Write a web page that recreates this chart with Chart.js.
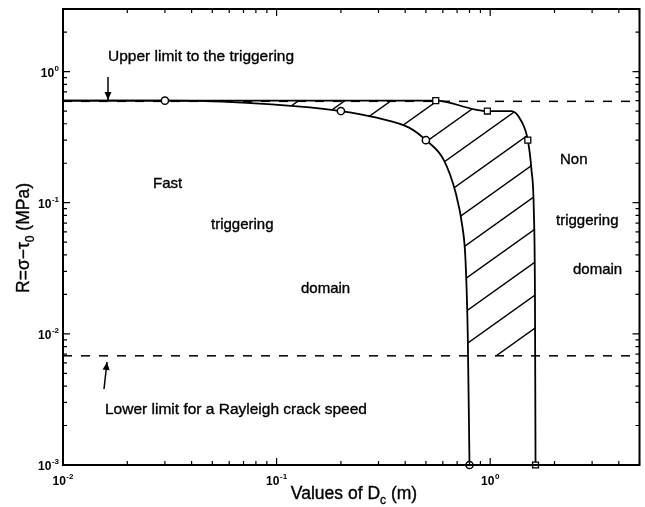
<!DOCTYPE html>
<html><head><meta charset="utf-8">
<script src="https://cdn.jsdelivr.net/npm/chart.js@4/dist/chart.umd.min.js"></script>
<style>html,body{margin:0;padding:0;background:#fff}</style>
</head><body>
<canvas id="c" width="645" height="507"></canvas>
<script>
// ---- data ----
const circleCurveX = [0.01, 0.03, 0.043, 0.125, 0.2, 0.294, 0.417, 0.5, 0.605, 0.689, 0.741, 0.766, 0.785, 0.8];
const circleCurveY = [0.6, 0.6, 0.597, 0.543, 0.5, 0.445, 0.374, 0.3, 0.213, 0.119, 0.0656, 0.037, 0.01, 0.001];
const squareCurveX = [0.01, 0.556, 0.853, 0.97, 1.26, 1.4, 1.5, 1.56, 1.6, 1.62, 1.63];
const squareCurveY = [0.6, 0.6, 0.513, 0.5, 0.5, 0.418, 0.3, 0.179, 0.0885, 0.02, 0.001];
const circleMarkX = [0.03, 0.2, 0.5, 0.8];
const circleMarkY = [0.6, 0.5, 0.3, 0.001];
const squareMarkX = [0.556, 0.97, 1.5, 1.63];
const squareMarkY = [0.6, 0.5, 0.3, 0.001];
const upperLimitX = [0.01, 5];
const upperLimitY = [0.593, 0.593];
const lowerLimitX = [0.01, 5];
const lowerLimitY = [0.0068, 0.0068];
const xMajorTicks = [0.01, 0.1, 1];
const xTickExponents = ['-2', '-1', '0'];
const yMajorTicks = [0.001, 0.01, 0.1, 1];
const yTickExponents = ['-3', '-2', '-1', '0'];

const FONT = '"Liberation Sans", Arial, Helvetica, sans-serif';
const pts = (xs, ys) => xs.map((x, i) => ({x, y: ys[i]}));

function powLabel(ctx, exp, x, y, align) {
  const big = 'bold 12px ' + FONT, small = 'bold 8px ' + FONT;
  ctx.font = big; const w1 = ctx.measureText('10').width;
  ctx.font = small; const w2 = ctx.measureText(exp).width;
  const total = w1 + w2 + 0.5;
  const x0 = align === 'center' ? x - total / 2 : x - total;
  ctx.textAlign = 'left'; ctx.textBaseline = 'middle';
  ctx.font = big; ctx.fillText('10', x0, y);
  ctx.font = small; ctx.fillText(exp, x0 + w1 + 0.5, y - 5);
}

function heavyText(ctx, t, x, y) {
  ctx.fillText(t, x, y);
  ctx.lineWidth = 0.35; ctx.strokeText(t, x, y);
}

function arrow(ctx, x1, y1, x2, y2) {
  ctx.beginPath(); ctx.moveTo(x1, y1); ctx.lineTo(x2, y2); ctx.stroke();
  const ang = Math.atan2(y2 - y1, x2 - x1), L = 8, W = 3.5;
  ctx.beginPath();
  ctx.moveTo(x2, y2);
  ctx.lineTo(x2 - L * Math.cos(ang) + W * Math.sin(ang), y2 - L * Math.sin(ang) - W * Math.cos(ang));
  ctx.lineTo(x2 - L * Math.cos(ang) - W * Math.sin(ang), y2 - L * Math.sin(ang) + W * Math.cos(ang));
  ctx.closePath(); ctx.fill();
}

const IDX_CIRCLE_CURVE = 2, IDX_SQUARE_CURVE = 3;

const decorPlugin = {
  id: 'decor',
  beforeDraw(chart) {
    const ctx = chart.ctx;
    ctx.save(); ctx.fillStyle = '#fff'; ctx.fillRect(0, 0, chart.width, chart.height); ctx.restore();
  },
  beforeDatasetsDraw(chart) {
    const ctx = chart.ctx, a = chart.chartArea, ys = chart.scales.y;
    const cLine = chart.getDatasetMeta(IDX_CIRCLE_CURVE).dataset;
    const sLine = chart.getDatasetMeta(IDX_SQUARE_CURVE).dataset;
    [cLine, sLine].forEach(l => { if (l.updateControlPoints) l.updateControlPoints(a, 'x'); });
    const yLow = ys.getPixelForValue(lowerLimitY[0]);
    ctx.save();
    ctx.beginPath(); cLine.path(ctx);
    ctx.lineTo(a.right, a.bottom); ctx.lineTo(a.right, a.top); ctx.lineTo(a.left, a.top); ctx.closePath(); ctx.clip();
    ctx.beginPath(); sLine.path(ctx);
    ctx.lineTo(a.left, a.bottom); ctx.closePath(); ctx.clip();
    ctx.beginPath(); ctx.rect(a.left, a.top, a.right - a.left, yLow - a.top); ctx.clip();
    ctx.strokeStyle = '#000'; ctx.lineWidth = 1.4;
    const k = 0.713, step = 33;
    for (let c = 478.6 - step * 8; c < 1300; c += step) {
      ctx.beginPath(); ctx.moveTo(a.left, c - k * a.left); ctx.lineTo(a.right, c - k * a.right); ctx.stroke();
    }
    ctx.restore();
  },
  afterDraw(chart) {
    const ctx = chart.ctx, a = chart.chartArea, xs = chart.scales.x, ys = chart.scales.y;
    ctx.save();
    ctx.strokeStyle = '#000'; ctx.fillStyle = '#000';
    // frame
    ctx.lineWidth = 2;
    ctx.strokeRect(a.left, a.top, a.right - a.left, a.bottom - a.top);
    // ticks
    ctx.lineWidth = 1.2;
    for (let d = -3; d <= 1; d++) {
      for (let m = 1; m <= 9; m++) {
        const v = m * Math.pow(10, d);
        const len = m === 1 ? 7 : 4;
        if (v >= xs.min * 0.999 && v <= xs.max * 1.001) {
          const px = xs.getPixelForValue(v);
          ctx.beginPath();
          ctx.moveTo(px, a.bottom); ctx.lineTo(px, a.bottom - len);
          ctx.moveTo(px, a.top); ctx.lineTo(px, a.top + len);
          ctx.stroke();
        }
        if (v >= ys.min * 0.999 && v <= ys.max * 1.001) {
          const py = ys.getPixelForValue(v);
          ctx.beginPath();
          ctx.moveTo(a.left, py); ctx.lineTo(a.left + len, py);
          ctx.moveTo(a.right, py); ctx.lineTo(a.right - len, py);
          ctx.stroke();
        }
      }
    }
    // tick labels
    xMajorTicks.forEach((v, i) => powLabel(ctx, xTickExponents[i], xs.getPixelForValue(v), a.bottom + 17, 'center'));
    yMajorTicks.forEach((v, i) => powLabel(ctx, yTickExponents[i], a.left - 4, ys.getPixelForValue(v) + 2, 'right'));

    // axis titles
    const tf = '17.5px ' + FONT, sf = '12px ' + FONT;
    ctx.textBaseline = 'alphabetic'; ctx.textAlign = 'left';
    // x title
    ctx.font = tf; const xa = 'Values of D', xb = ' (m)';
    const wa = ctx.measureText(xa).width, wb = ctx.measureText(xb).width;
    ctx.font = sf; const wc = ctx.measureText('c').width;
    let x0 = 354 - (wa + wc + wb) / 2, base = 499;
    ctx.font = tf; heavyText(ctx, xa, x0, base);
    ctx.font = sf; heavyText(ctx, 'c', x0 + wa, base + 5);
    ctx.font = tf; heavyText(ctx, xb, x0 + wa + wc, base);
    // y title
    ctx.save();
    ctx.translate(29, 238); ctx.rotate(-Math.PI / 2);
    ctx.font = tf; const ya = 'R=\u03C3\u2212\u03C4', yb = ' (MPa)';
    const ywa = ctx.measureText(ya).width, ywb = ctx.measureText(yb).width;
    ctx.font = sf; const ywc = ctx.measureText('0').width;
    x0 = -(ywa + ywc + ywb) / 2;
    ctx.font = tf; heavyText(ctx, ya, x0, 0);
    ctx.font = sf; heavyText(ctx, '0', x0 + ywa, 5);
    ctx.font = tf; heavyText(ctx, yb, x0 + ywa + ywc, 0);
    ctx.restore();

    // annotations
    ctx.font = '15.5px ' + FONT; ctx.textBaseline = 'middle'; ctx.textAlign = 'left';
    heavyText(ctx, 'Upper limit to the triggering', 108, 57);
    heavyText(ctx, 'Lower limit for a Rayleigh crack speed', 105, 410);
    ctx.font = '15px ' + FONT;
    heavyText(ctx, 'Fast', 153, 184);
    heavyText(ctx, 'triggering', 211, 225);
    heavyText(ctx, 'domain', 301, 289);
    heavyText(ctx, 'Non', 560, 160);
    heavyText(ctx, 'triggering', 556, 221);
    heavyText(ctx, 'domain', 573, 270);
    ctx.lineWidth = 1.5;
    arrow(ctx, 108, 77, 108, 100);
    arrow(ctx, 104, 389, 107, 362);
    ctx.restore();
  }
};

new Chart(document.getElementById('c'), {
  type: 'scatter',
  data: {
    datasets: [
      { data: pts(circleMarkX, circleMarkY), showLine: false, pointStyle: 'circle', pointRadius: 3.6,
        borderColor: '#000', backgroundColor: '#fff', pointBorderWidth: 1.5, clip: false, order: 0 },
      { data: pts(squareMarkX, squareMarkY), showLine: false, pointStyle: 'rect', pointRadius: 4.2,
        borderColor: '#000', backgroundColor: '#fff', pointBorderWidth: 1.3, clip: false, order: 1 },
      { data: pts(circleCurveX, circleCurveY), showLine: true, borderColor: '#000', borderWidth: 1.8,
        pointRadius: 0, cubicInterpolationMode: 'monotone', order: 2 },
      { data: pts(squareCurveX, squareCurveY), showLine: true, borderColor: '#000', borderWidth: 1.8,
        pointRadius: 0, cubicInterpolationMode: 'monotone', order: 3 },
      { data: pts(upperLimitX, upperLimitY), showLine: true, borderColor: '#000', borderWidth: 1.5,
        borderDash: [9, 9], pointRadius: 0, order: 4 },
      { data: pts(lowerLimitX, lowerLimitY), showLine: true, borderColor: '#000', borderWidth: 1.5,
        borderDash: [9, 9], pointRadius: 0, order: 5 }
    ]
  },
  options: {
    responsive: false,
    animation: false,
    layout: { padding: { left: 63, right: 4, top: 9, bottom: 42 } },
    plugins: { legend: { display: false }, tooltip: { enabled: false } },
    scales: {
      x: { type: 'logarithmic', min: 0.01, max: 5, display: false },
      y: { type: 'logarithmic', min: 0.001, max: 3, display: false }
    }
  },
  plugins: [decorPlugin]
});
</script>
</body></html>
